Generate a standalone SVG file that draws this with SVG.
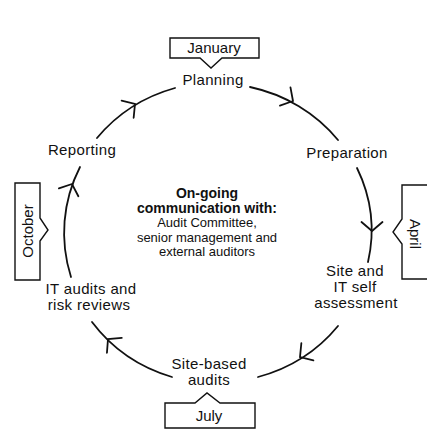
<svg xmlns="http://www.w3.org/2000/svg" width="427" height="438" viewBox="0 0 427 438">
<style>
  .bg { fill: #ffffff; }
  .arc { fill: none; stroke: #111; stroke-width: 1.8; stroke-linecap: round; }
  .box { fill: #ffffff; stroke: #111; stroke-width: 1.4; stroke-linejoin: miter; }
  .lbl { font-family: "Liberation Sans", Arial, sans-serif; font-size: 15px; letter-spacing: 0.35px; fill: #111; text-anchor: middle; }
  .mon { font-family: "Liberation Sans", Arial, sans-serif; font-size: 15px; fill: #111; text-anchor: middle; }
  .ctrb { font-family: "Liberation Sans", Arial, sans-serif; font-size: 14px; font-weight: bold; fill: #111; text-anchor: middle; }
  .ctr { font-family: "Liberation Sans", Arial, sans-serif; font-size: 13px; fill: #111; text-anchor: middle; }
</style>
<defs>
  <path id="chev" d="M -9 -10.5 L 0 0 L -9 10.5" fill="none" stroke="#111" stroke-width="1.8" stroke-linecap="round" stroke-linejoin="miter"/>
</defs>
<rect class="bg" x="0" y="0" width="427" height="438"/>

<g id="connectors">
  <path class="arc" d="M 250 87 A 155 148 0 0 1 338 140"/>
  <use href="#chev" transform="translate(293,101) rotate(30)"/>
  <path class="arc" d="M 357 168 A 155 148 0 0 1 368 262"/>
  <use href="#chev" transform="translate(372,231) rotate(90)"/>
  <path class="arc" d="M 338 326 A 155 148 0 0 1 258 377"/>
  <use href="#chev" transform="translate(300,357) rotate(145)"/>
  <path class="arc" d="M 172 377 A 155 148 0 0 1 92 322"/>
  <use href="#chev" transform="translate(108,339) rotate(-135)"/>
  <path class="arc" d="M 71 277 A 152 148 0 0 1 80 167"/>
  <use href="#chev" transform="translate(72,184) rotate(-68)"/>
  <path class="arc" d="M 97 138 A 155 148 0 0 1 175 88"/>
  <use href="#chev" transform="translate(135,104) rotate(-35)"/>
</g>

<g id="planning"><text class="lbl" x="213" y="85">Planning</text></g>
<g id="preparation"><text class="lbl" x="347" y="158">Preparation</text></g>
<g id="site-it-self-assessment">
  <text class="lbl" x="355" y="275.5">Site and</text>
  <text class="lbl" x="355" y="291.5">IT self</text>
  <text class="lbl" x="356" y="307.5">assessment</text>
</g>
<g id="site-based-audits">
  <text class="lbl" x="209" y="369">Site-based</text>
  <text class="lbl" x="209" y="385">audits</text>
</g>
<g id="it-audits">
  <text class="lbl" x="91" y="294">IT audits and</text>
  <text class="lbl" x="89" y="310">risk reviews</text>
</g>
<g id="reporting"><text class="lbl" x="82" y="155">Reporting</text></g>

<g id="center">
  <text class="ctrb" x="207" y="198">On-going</text>
  <text class="ctrb" x="207" y="212.5">communication with:</text>
  <text class="ctr" x="207" y="227">Audit Committee,</text>
  <text class="ctr" x="207" y="241.5">senior management and</text>
  <text class="ctr" x="207" y="256">external auditors</text>
</g>

<g id="january">
  <path class="box" d="M 170 38 H 259 V 58 H 222 L 211 68 L 200 58 H 170 Z"/>
  <text class="mon" x="214" y="53">January</text>
</g>
<g id="april">
  <path class="box" d="M 450 185 H 402 V 219 L 393 232 L 402 244 V 279 H 450"/>
  <text class="mon" transform="translate(410,234) rotate(90)">April</text>
</g>
<g id="july">
  <path class="box" d="M 165 403 H 195 L 207 393 L 220 403 H 255 V 428 H 165 Z"/>
  <text class="mon" x="209" y="421">July</text>
</g>
<g id="october">
  <path class="box" d="M 15 183 H 40 V 218 L 48 230 L 40 241 V 280 H 15 Z"/>
  <text class="mon" transform="translate(32.5,231) rotate(-90)">October</text>
</g>
</svg>
